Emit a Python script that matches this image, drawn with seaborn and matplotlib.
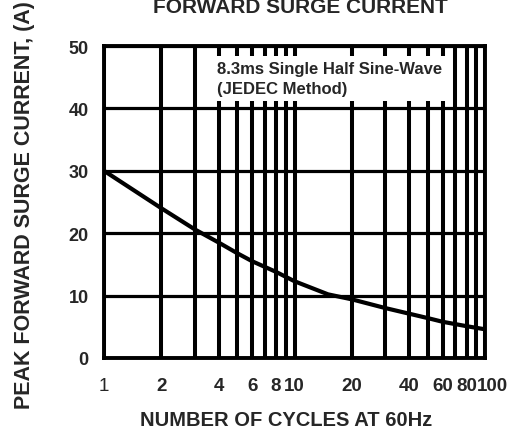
import numpy as np
import pandas as pd
import matplotlib
matplotlib.use('Agg')
import matplotlib.pyplot as plt
import matplotlib.transforms as mtransforms
import seaborn as sns

# Data
cycles = [1, 2, 3, 4, 5, 6, 8, 10, 15, 20, 30, 40, 50, 60, 80, 100]
surge_current = [30, 24.0, 20.6, 18.5, 16.8, 15.5, 13.8, 12.3, 10.2, 9.4, 8.0, 7.1, 6.4, 5.8, 5.1, 4.6]

major_ticks = [1, 2, 4, 6, 8, 10, 20, 40, 60, 80, 100]
major_labels = ['1', '2', '4', '6', '8', '10', '20', '40', '60', '80', '100']
minor_ticks = [3, 5, 7, 9, 30, 50, 70, 90]
y_ticks = [0, 10, 20, 30, 40, 50]

df = pd.DataFrame({'cycles': cycles, 'current': surge_current})

sns.set_theme(style="white")
plt.rcParams['font.family'] = ['Liberation Sans', 'DejaVu Sans']

fig = plt.figure(figsize=(5.18, 4.31), dpi=100)
ax = fig.add_axes([104 / 518, 72 / 431, 381 / 518, 312 / 431])

ax.set_xscale('log')
ax.set_xlim(1, 100)
ax.set_ylim(0, 50)

# grid
ax.set_xticks(major_ticks)
ax.set_xticks(minor_ticks, minor=True)
ax.set_yticks(y_ticks)
ax.grid(True, which='both', axis='x', color='black', linewidth=2.9)
ax.grid(True, which='major', axis='y', color='black', linewidth=2.3)
ax.set_axisbelow(True)

sns.lineplot(data=df, x='cycles', y='current', ax=ax, color='black', linewidth=3.0, zorder=3)

ax.set_xticklabels(major_labels, fontsize=13.5, fontweight='bold')
ax.get_xticklabels()[0].set_fontweight('normal')
ax.set_yticklabels([str(v) for v in y_ticks], fontsize=13, fontweight='bold')
ax.xaxis.set_minor_formatter(plt.NullFormatter())
ax.tick_params(axis='both', which='both', length=0)
ax.tick_params(axis='x', pad=14)
ax.tick_params(axis='y', pad=11)

# the "100" label sits a little right of its line in the original
last = ax.get_xticklabels()[-1]
last.set_transform(last.get_transform() + mtransforms.ScaledTranslation(7 / 100, 0, fig.dpi_scale_trans))

for s in ax.spines.values():
    s.set_color('black')
    s.set_linewidth(2.8)

ax.set_xlabel('')
ax.set_ylabel('')

ax.text(0.297, 0.952, '8.3ms Single Half Sine-Wave\n(JEDEC Method)', transform=ax.transAxes,
        ha='left', va='top', fontsize=12, fontweight='bold', linespacing=1.45, zorder=4,
        bbox=dict(boxstyle='square,pad=0.3', facecolor='white', edgecolor='none'))

fig.text(300 / 518, 1 - 13 / 431, 'FORWARD SURGE CURRENT', ha='center', va='baseline',
         fontsize=15, fontweight='bold')
fig.text(286 / 518, 1 - 421 / 431, 'NUMBER OF CYCLES AT 60Hz', ha='center', va='center',
         fontsize=14.5, fontweight='bold')
fig.text(25 / 518, 1 - 205 / 431, 'PEAK FORWARD SURGE CURRENT, (A)', ha='center', va='center',
         rotation=90, fontsize=15.5, fontweight='bold')

fig.savefig('out.png', dpi=100, facecolor='white')
